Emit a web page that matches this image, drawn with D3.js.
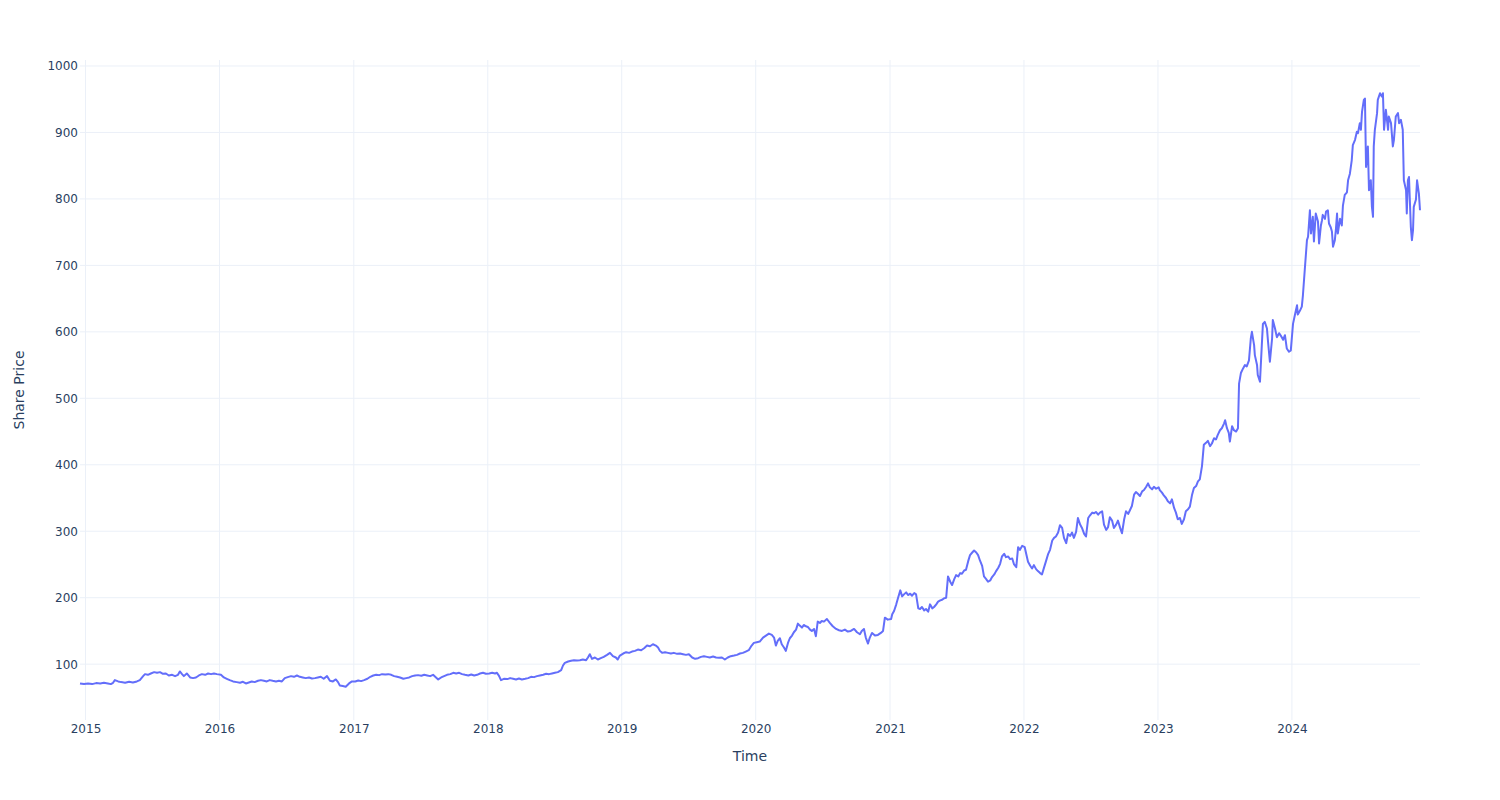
<!DOCTYPE html>
<html><head><meta charset="utf-8">
<script src="https://cdn.jsdelivr.net/npm/d3@7"></script>
<style>body{margin:0;background:#fff}svg{display:block}</style>
</head><body><svg id="c" width="1500" height="800"></svg>
<script>
const prices2015 = [["2014-12-17",71],["2014-12-28",70],["2015-01-08",71],["2015-01-19",70],["2015-01-30",71.5],["2015-02-10",71],["2015-02-20",72],["2015-03-03",71],["2015-03-11",70],["2015-03-17",72],["2015-03-22",76],["2015-03-31",74],["2015-04-08",73],["2015-04-19",72],["2015-04-30",73.5],["2015-05-10",72.5],["2015-05-21",74],["2015-05-29",76],["2015-06-07",82],["2015-06-12",85],["2015-06-20",84],["2015-06-28",86],["2015-07-07",88],["2015-07-15",87],["2015-07-23",88],["2015-07-31",85.5],["2015-08-08",86],["2015-08-16",83],["2015-08-25",84],["2015-09-02",82],["2015-09-10",84],["2015-09-15",89],["2015-09-21",85],["2015-09-26",82],["2015-10-04",86],["2015-10-13",80],["2015-10-21",79],["2015-10-29",80],["2015-11-06",83],["2015-11-14",85],["2015-11-23",84],["2015-12-01",86],["2015-12-09",85],["2015-12-17",86],["2015-12-25",85]];
const prices2016 = [["2016-01-05",84],["2016-01-13",80],["2016-01-21",78],["2016-01-29",76],["2016-02-07",74],["2016-02-17",73],["2016-02-26",72],["2016-03-05",73.5],["2016-03-13",71],["2016-03-21",72.5],["2016-03-29",74],["2016-04-06",73],["2016-04-15",75],["2016-04-23",76],["2016-05-01",75],["2016-05-09",74],["2016-05-17",76],["2016-05-25",75],["2016-06-03",74],["2016-06-11",75],["2016-06-19",74],["2016-06-27",79],["2016-07-05",80.5],["2016-07-14",82],["2016-07-22",81],["2016-07-30",83],["2016-08-07",81],["2016-08-15",80],["2016-08-23",79],["2016-09-01",80],["2016-09-09",78.5],["2016-09-17",79],["2016-09-25",80],["2016-10-03",81],["2016-10-11",78],["2016-10-20",82],["2016-10-28",75],["2016-11-05",74],["2016-11-13",77],["2016-11-19",73],["2016-11-24",68],["2016-12-02",67],["2016-12-10",66],["2016-12-19",71],["2016-12-27",74]];
const prices2017 = [["2017-01-05",74],["2017-01-13",75.5],["2017-01-21",74.5],["2017-01-29",76],["2017-02-07",78],["2017-02-15",81],["2017-02-23",83],["2017-03-03",84],["2017-03-11",83.5],["2017-03-19",85],["2017-03-28",84.5],["2017-04-05",85],["2017-04-13",84],["2017-04-21",82],["2017-04-29",81],["2017-05-07",80],["2017-05-16",78],["2017-05-24",79],["2017-06-01",80],["2017-06-09",82],["2017-06-17",83],["2017-06-25",83.5],["2017-07-04",82.5],["2017-07-12",84],["2017-07-20",83],["2017-07-28",82],["2017-08-05",84],["2017-08-13",80],["2017-08-19",77],["2017-08-27",80],["2017-09-04",82],["2017-09-12",84],["2017-09-21",85],["2017-09-29",87],["2017-10-07",86],["2017-10-15",87],["2017-10-23",85],["2017-10-31",84],["2017-11-09",83],["2017-11-17",84.5],["2017-11-25",83],["2017-12-03",84],["2017-12-11",86],["2017-12-19",87],["2017-12-27",85.5]];
const prices2018 = [["2018-01-05",86],["2018-01-13",87],["2018-01-21",86],["2018-01-26",87],["2018-02-01",82],["2018-02-06",76],["2018-02-14",78],["2018-02-23",77.5],["2018-03-03",79],["2018-03-11",78],["2018-03-19",77],["2018-03-27",78.5],["2018-04-04",77],["2018-04-13",78],["2018-04-21",79],["2018-04-29",81],["2018-05-07",80.5],["2018-05-15",82],["2018-05-23",83],["2018-06-01",84],["2018-06-09",85.5],["2018-06-17",85],["2018-06-25",86],["2018-07-03",87],["2018-07-11",88],["2018-07-20",91],["2018-07-25",98],["2018-07-30",102],["2018-08-08",104],["2018-08-16",105],["2018-08-24",106],["2018-09-01",105.5],["2018-09-09",106],["2018-09-17",107],["2018-09-26",106],["2018-10-01",110],["2018-10-06",115],["2018-10-12",108],["2018-10-20",110],["2018-10-28",107],["2018-11-05",109],["2018-11-13",111],["2018-11-22",114],["2018-11-30",117],["2018-12-08",112],["2018-12-16",110],["2018-12-21",107],["2018-12-27",113]];
const prices2019 = [["2019-01-05",116],["2019-01-13",118],["2019-01-21",117],["2019-01-29",119],["2019-02-06",120],["2019-02-14",122],["2019-02-23",121],["2019-03-03",124],["2019-03-11",128],["2019-03-19",127],["2019-03-27",130],["2019-04-04",128],["2019-04-10",125],["2019-04-15",120],["2019-04-21",117],["2019-04-29",118],["2019-05-07",117],["2019-05-15",116],["2019-05-23",117],["2019-06-01",115.5],["2019-06-09",116],["2019-06-17",115],["2019-06-25",114],["2019-07-03",115],["2019-07-12",110],["2019-07-20",108],["2019-07-28",109],["2019-08-05",111],["2019-08-13",112],["2019-08-21",111],["2019-08-29",110],["2019-09-07",111.5],["2019-09-15",110],["2019-09-23",109.5],["2019-10-01",110],["2019-10-09",107],["2019-10-17",110],["2019-10-25",112],["2019-11-03",113],["2019-11-11",114],["2019-11-19",116],["2019-11-27",117],["2019-12-05",119],["2019-12-13",121],["2019-12-21",128],["2019-12-27",132]];
const prices2020 = [["2020-01-04",133],["2020-01-12",134],["2020-01-21",140],["2020-01-29",143],["2020-02-06",146],["2020-02-14",144],["2020-02-20",140],["2020-02-25",128],["2020-03-01",135],["2020-03-07",139],["2020-03-12",130],["2020-03-18",125],["2020-03-23",120],["2020-03-29",132],["2020-04-03",139],["2020-04-09",143],["2020-04-14",148],["2020-04-20",152],["2020-04-25",161],["2020-04-30",158],["2020-05-06",155],["2020-05-11",159],["2020-05-17",157],["2020-05-22",156],["2020-05-28",152],["2020-06-02",150],["2020-06-08",153],["2020-06-13",142],["2020-06-18",164],["2020-06-24",162],["2020-06-29",165],["2020-07-05",164],["2020-07-13",168],["2020-07-21",162],["2020-07-29",157],["2020-08-07",153],["2020-08-15",151],["2020-08-23",150],["2020-08-31",152],["2020-09-08",149],["2020-09-16",150],["2020-09-25",153],["2020-10-03",148],["2020-10-11",145],["2020-10-16",150],["2020-10-22",153],["2020-10-27",140],["2020-11-02",131],["2020-11-07",140],["2020-11-13",147],["2020-11-21",143],["2020-11-29",144],["2020-12-07",147],["2020-12-13",150],["2020-12-18",170],["2020-12-26",167]];
const prices2021 = [["2021-01-04",168],["2021-01-07",175],["2021-01-12",180],["2021-01-18",190],["2021-01-23",200],["2021-01-29",211],["2021-02-03",202],["2021-02-08",205],["2021-02-14",208],["2021-02-19",204],["2021-02-25",206],["2021-03-02",203],["2021-03-08",207],["2021-03-13",205],["2021-03-19",184],["2021-03-24",183],["2021-03-29",186],["2021-04-04",181],["2021-04-09",183],["2021-04-15",179],["2021-04-20",190],["2021-04-26",184],["2021-05-01",186],["2021-05-07",190],["2021-05-12",194],["2021-05-18",196],["2021-05-23",197],["2021-05-28",199],["2021-06-03",200],["2021-06-08",232],["2021-06-14",224],["2021-06-19",219],["2021-06-25",228],["2021-06-30",234],["2021-07-06",232],["2021-07-11",237],["2021-07-16",236],["2021-07-22",241],["2021-07-27",242],["2021-08-02",255],["2021-08-07",264],["2021-08-13",268],["2021-08-18",271],["2021-08-24",268],["2021-08-29",264],["2021-09-03",256],["2021-09-09",248],["2021-09-14",232],["2021-09-20",228],["2021-09-25",224],["2021-10-01",226],["2021-10-06",231],["2021-10-12",235],["2021-10-17",240],["2021-10-23",245],["2021-10-28",251],["2021-11-02",262],["2021-11-08",266],["2021-11-13",261],["2021-11-19",262],["2021-11-24",258],["2021-11-30",259],["2021-12-05",250],["2021-12-11",246],["2021-12-16",276],["2021-12-21",272],["2021-12-27",278]];
const prices2022 = [["2022-01-03",276],["2022-01-07",266],["2022-01-12",254],["2022-01-18",248],["2022-01-23",244],["2022-01-28",249],["2022-02-03",243],["2022-02-08",240],["2022-02-14",237],["2022-02-19",235],["2022-02-25",246],["2022-03-02",255],["2022-03-08",266],["2022-03-13",272],["2022-03-19",286],["2022-03-24",290],["2022-03-29",292],["2022-04-04",298],["2022-04-09",309],["2022-04-15",305],["2022-04-20",290],["2022-04-26",282],["2022-05-01",296],["2022-05-07",293],["2022-05-12",298],["2022-05-17",290],["2022-05-23",299],["2022-05-28",320],["2022-06-03",310],["2022-06-08",305],["2022-06-14",296],["2022-06-19",292],["2022-06-25",320],["2022-06-30",324],["2022-07-06",328],["2022-07-11",327],["2022-07-16",329],["2022-07-22",325],["2022-07-27",328],["2022-08-02",330],["2022-08-07",310],["2022-08-13",302],["2022-08-18",306],["2022-08-23",321],["2022-08-29",316],["2022-09-03",305],["2022-09-09",310],["2022-09-14",316],["2022-09-20",305],["2022-09-25",297],["2022-10-01",318],["2022-10-06",330],["2022-10-12",326],["2022-10-17",332],["2022-10-22",338],["2022-10-28",355],["2022-11-02",359],["2022-11-08",356],["2022-11-13",353],["2022-11-19",360],["2022-11-24",362],["2022-11-30",367],["2022-12-05",372],["2022-12-10",366],["2022-12-16",363],["2022-12-21",367],["2022-12-27",364]];
const prices2023 = [["2023-01-03",366],["2023-01-06",362],["2023-01-12",358],["2023-01-17",354],["2023-01-23",350],["2023-01-28",345],["2023-02-03",342],["2023-02-08",348],["2023-02-14",335],["2023-02-19",328],["2023-02-24",318],["2023-03-02",320],["2023-03-07",311],["2023-03-13",318],["2023-03-18",330],["2023-03-24",333],["2023-03-29",337],["2023-04-04",355],["2023-04-09",365],["2023-04-15",368],["2023-04-20",375],["2023-04-25",378],["2023-05-01",398],["2023-05-06",430],["2023-05-12",433],["2023-05-17",436],["2023-05-23",428],["2023-05-28",432],["2023-06-03",440],["2023-06-08",438],["2023-06-13",445],["2023-06-19",452],["2023-06-24",455],["2023-06-30",462],["2023-07-03",467],["2023-07-08",455],["2023-07-13",448],["2023-07-16",435],["2023-07-22",458],["2023-07-27",452],["2023-08-02",450],["2023-08-07",455],["2023-08-10",522],["2023-08-15",538],["2023-08-21",545],["2023-08-26",550],["2023-08-31",548],["2023-09-06",557],["2023-09-11",590],["2023-09-14",600],["2023-09-20",580],["2023-09-22",565],["2023-09-28",550],["2023-09-30",535],["2023-10-06",525],["2023-10-11",580],["2023-10-14",612],["2023-10-19",615],["2023-10-25",605],["2023-10-28",585],["2023-11-02",555],["2023-11-08",590],["2023-11-10",618],["2023-11-16",605],["2023-11-21",592],["2023-11-27",598],["2023-12-02",594],["2023-12-08",588],["2023-12-13",595],["2023-12-18",575],["2023-12-24",570],["2023-12-29",572]];
const prices2024 = [["2024-01-04",612],["2024-01-09",625],["2024-01-15",640],["2024-01-17",626],["2024-01-23",632],["2024-01-28",638],["2024-01-31",655],["2024-02-05",693],["2024-02-11",738],["2024-02-14",743],["2024-02-19",783],["2024-02-22",748],["2024-02-27",773],["2024-03-01",736],["2024-03-06",778],["2024-03-12",766],["2024-03-15",733],["2024-03-20",760],["2024-03-23",768],["2024-03-25",776],["2024-03-31",770],["2024-04-03",781],["2024-04-08",783],["2024-04-11",763],["2024-04-16",757],["2024-04-19",751],["2024-04-22",728],["2024-04-27",738],["2024-04-30",755],["2024-05-03",778],["2024-05-05",748],["2024-05-11",770],["2024-05-16",760],["2024-05-19",790],["2024-05-24",806],["2024-05-30",810],["2024-06-02",828],["2024-06-07",838],["2024-06-12",858],["2024-06-15",881],["2024-06-21",889],["2024-06-26",901],["2024-06-29",899],["2024-07-04",914],["2024-07-07",904],["2024-07-10",931],["2024-07-15",949],["2024-07-18",951],["2024-07-21",848],["2024-07-23",860],["2024-07-26",879],["2024-07-29",813],["2024-08-03",828],["2024-08-06",788],["2024-08-09",773],["2024-08-11",879],["2024-08-14",904],["2024-08-20",929],["2024-08-22",949],["2024-08-28",959],["2024-09-02",954],["2024-09-05",959],["2024-09-08",904],["2024-09-13",934],["2024-09-19",904],["2024-09-21",924],["2024-09-27",914],["2024-10-02",879],["2024-10-05",889],["2024-10-10",924],["2024-10-16",929],["2024-10-19",914],["2024-10-24",919],["2024-10-29",904],["2024-11-01",828],["2024-11-07",813],["2024-11-09",778],["2024-11-12",828],["2024-11-15",833],["2024-11-20",758],["2024-11-23",738],["2024-11-26",753],["2024-11-28",788],["2024-12-04",799],["2024-12-07",828],["2024-12-12",808],["2024-12-15",783]];

const yTickValues = [100, 200, 300, 400, 500, 600, 700, 800, 900, 1000];
const xTickYears = ["2015", "2016", "2017", "2018", "2019", "2020", "2021", "2022", "2023", "2024"];
const xTitle = "Time";
const yTitle = "Share Price";

const parse = d3.timeParse("%Y-%m-%d");
const series = [].concat(prices2015, prices2016, prices2017, prices2018, prices2019,
  prices2020, prices2021, prices2022, prices2023, prices2024)
  .map(([d, v]) => ({ date: parse(d), value: v }));

const W = 1500, H = 800;
const m = { left: 80, right: 80, top: 60, bottom: 80 };
const svg = d3.select("#c");
const font = "'DejaVu Sans', Verdana, sans-serif";
const textColor = "#2a3f5f";
const gridColor = "#EBF0F8";

const x = d3.scaleTime()
  .domain(d3.extent(series, d => d.date))
  .range([m.left, W - m.right]);

const [vmin, vmax] = d3.extent(series, d => d.value);
const pad = (vmax - vmin) * 0.056;
const y = d3.scaleLinear()
  .domain([vmin - pad, vmax + pad])
  .range([H - m.bottom, m.top]);

const xTicks = xTickYears.map(s => d3.timeParse("%Y")(s));

// grid
const grid = svg.append("g");
grid.selectAll("line.h").data(yTickValues).join("line")
  .attr("x1", m.left).attr("x2", W - m.right)
  .attr("y1", d => y(d)).attr("y2", d => y(d))
  .attr("stroke", gridColor).attr("stroke-width", 1);
grid.selectAll("line.v").data(xTicks).join("line")
  .attr("x1", d => x(d)).attr("x2", d => x(d))
  .attr("y1", m.top).attr("y2", H - m.bottom)
  .attr("stroke", gridColor).attr("stroke-width", 1);

// axes
const xAxis = d3.axisBottom(x).tickValues(xTicks).tickFormat(d3.timeFormat("%Y")).tickSize(0).tickPadding(4);
const gx = svg.append("g").attr("transform", `translate(0,${H - m.bottom})`).call(xAxis);
gx.select(".domain").remove();
gx.selectAll("text").attr("fill", textColor).style("font-family", font).style("font-size", "12px");

const yAxis = d3.axisLeft(y).tickValues(yTickValues).tickFormat(d3.format("d")).tickSize(0).tickPadding(2);
const gy = svg.append("g").attr("transform", `translate(${m.left},0)`).call(yAxis);
gy.select(".domain").remove();
gy.selectAll("text").attr("fill", textColor).style("font-family", font).style("font-size", "12px");

// line
const line = d3.line().x(d => x(d.date)).y(d => y(d.value));
svg.append("path").datum(series)
  .attr("d", line)
  .attr("fill", "none")
  .attr("stroke", "#636efa")
  .attr("stroke-width", 2)
  .attr("stroke-linejoin", "round");

// titles
svg.append("text").attr("x", (m.left + W - m.right) / 2).attr("y", 761)
  .attr("text-anchor", "middle").attr("fill", textColor)
  .style("font-family", font).style("font-size", "14px").text(xTitle);
svg.append("text")
  .attr("transform", `translate(24,${(m.top + H - m.bottom) / 2}) rotate(-90)`)
  .attr("text-anchor", "middle").attr("fill", textColor)
  .style("font-family", font).style("font-size", "14px").text(yTitle);
</script>
</body></html>
